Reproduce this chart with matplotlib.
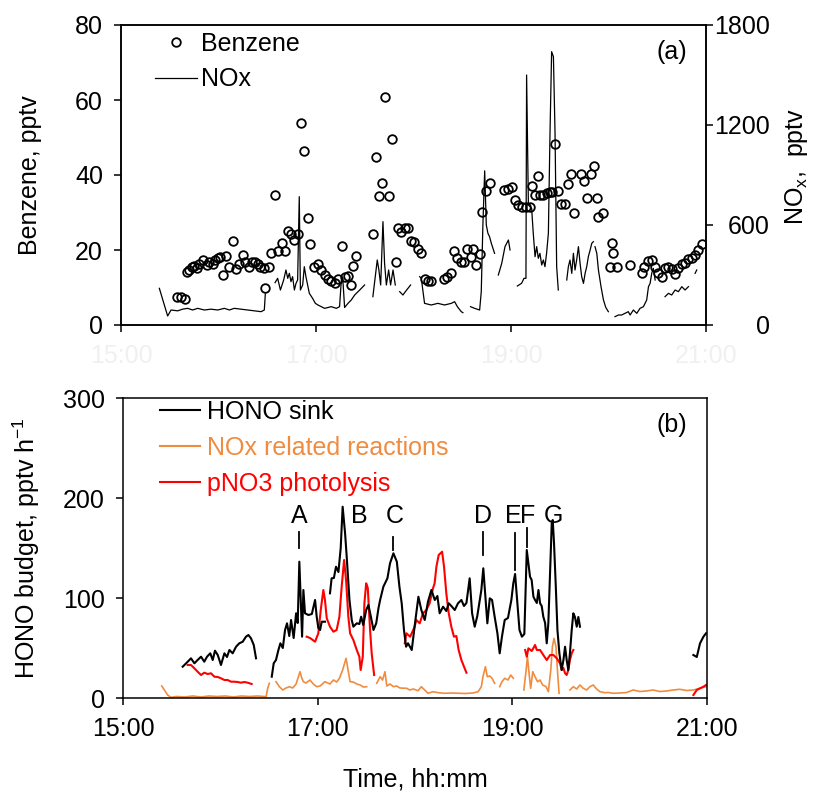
import numpy as np
import matplotlib
matplotlib.use("Agg")
import matplotlib.pyplot as plt
from matplotlib.lines import Line2D

plt.rcParams['font.family'] = ['Liberation Sans', 'DejaVu Sans']
nan = np.nan

# ---------------- data (time in minutes after 15:00) ----------------
benz_t = [34.5, 37.0, 39.4, 40.4, 42.1, 43.7, 45.1, 46.8, 48.2, 50.3, 52.9, 54.4, 56.4, 58.0,
          59.5, 61.1, 62.6, 64.6, 66.7, 68.7, 70.8, 72.8, 74.9, 76.3, 78.6, 80.6, 82.7, 84.1,
          85.7, 87.8, 88.6, 90.9, 92.3, 94.8, 96.4, 98.9, 100.9, 102.6, 104.6, 106.7, 108.7,
          111.0, 112.8, 114.9, 116.5, 118.6, 121.2, 123.3, 125.3, 127.4, 129.4, 131.5, 133.5,
          136.0, 137.6, 139.7, 141.3, 142.7, 144.8, 155.0, 156.7, 158.7, 160.8, 162.6, 164.7,
          166.9, 169.0, 170.4, 172.5, 174.5, 176.6, 178.2, 180.3, 182.7, 184.8, 186.8, 188.9,
          190.9, 198.7, 200.8, 202.8, 204.9, 206.9, 209.0, 211.0, 213.1, 215.1, 216.6, 218.6,
          220.7, 222.1, 224.8, 226.8, 235.7, 238.1, 240.8, 242.5, 244.6, 246.8, 249.2, 251.4,
          253.2, 254.8, 256.9, 257.9, 259.9, 262.0, 264.0, 265.5, 267.1, 269.2, 270.8, 273.3,
          274.9, 277.0, 279.0, 283.1, 285.2, 286.6, 289.3, 291.3, 292.8, 293.8, 296.9, 301.0,
          302.0, 303.0, 305.1, 313.3, 320.4, 322.1, 324.6, 327.0, 328.7, 330.7, 332.8, 334.8,
          336.9, 338.9, 341.0, 343.0, 345.1, 347.1, 349.2, 351.2, 353.3, 355.3, 357.4]
benz_v = [7.4, 7.4, 6.9, 14.2, 14.7, 15.4, 15.8, 15.1, 16.4, 17.3, 16.0, 16.9, 16.4, 17.3,
          17.8, 18.2, 13.3, 18.5, 15.4, 22.4, 14.9, 16.4, 18.8, 16.9, 15.4, 16.9, 16.9, 16.4,
          15.5, 15.1, 9.8, 15.4, 19.3, 34.7, 19.8, 21.8, 19.8, 25.1, 24.3, 22.7, 24.3,
          54.0, 46.5, 28.5, 21.5, 15.5, 16.4, 14.7, 13.3, 12.4, 11.8, 11.3, 12.4,
          21.2, 12.7, 13.0, 10.8, 15.8, 18.5, 24.2, 44.9, 34.4, 37.8, 60.7, 34.4,
          49.6, 16.9, 25.8, 24.9, 26.0, 26.0, 22.5, 22.2, 20.4, 19.3, 12.2, 11.8,
          11.8, 12.4, 12.9, 14.0, 19.8, 17.8, 16.7, 16.7, 20.2, 18.2, 20.2, 16.0,
          18.9, 30.2, 35.8, 37.8, 36.0, 36.2, 36.7, 33.3, 32.0, 31.6, 31.4, 31.4,
          37.1, 34.7, 39.7, 34.7, 34.7, 35.1, 35.6, 35.6, 48.3, 35.8, 32.4, 32.4,
          37.6, 40.3, 30.0, 40.4, 38.4, 33.8, 40.4, 42.5, 33.8, 28.7, 30.0, 15.6,
          21.9, 19.3, 15.6, 16.0, 13.8, 15.4, 17.1, 17.3, 15.4, 13.8, 12.9, 15.1,
          15.6, 14.9, 13.6, 15.1, 16.4, 16.6, 17.5, 18.0, 18.7, 20.0, 21.6]

nox_t = [23.6, 28.7, 30.8, 34.9, 37.9, 41.0, 44.1, 47.2, 51.3, 55.4, 59.5, 63.6, 66.7, 69.7,
         73.8, 77.9, 82.1, 86.2, 88.2, 88.8, nan,
         94.8, 96.4, 98.1, 100.1, 101.5, 102.6, 103.6, 104.6, 105.6, 106.7, 107.7, 108.7, 109.7,
         110.4, 111.8, 112.8, 113.8, 115.9, 117.9, 119.6, 121.2, 125.3, 129.4, 132.5, 134.5,
         135.6, 136.6, 137.6, 139.7, 141.7, 143.8, 146.9, 149.9, nan,
         155.0, 156.5, 157.7, 158.7, 159.8, 161.2, 162.2, 163.3, 164.7, 165.9, 167.4, 168.8, nan,
         171.5, 173.5, 175.0, 176.6, 178.2, nan,
         183.8, 184.8, 186.8, 190.9, 195.0, 199.1, 203.3, 205.3, 207.0, 209.4, 210.4, nan,
         215.1, 217.6, 220.7, 221.7, 222.7, 223.8, 224.8, 225.8, 226.8, 227.9, 228.9, 229.9, nan,
         232.2, 234.3, 236.3, 238.4, 239.4, nan,
         243.9, 246.5, 248.0, 249.2, 249.6, 250.7, 251.7, 252.7, 253.7, 254.8, 255.8, 256.8,
         257.8, 258.9, 259.9, 260.9, 261.9, 263.0, 264.0, 265.0, 266.1, 267.1, 268.1, 269.1, nan,
         274.3, 275.3, 276.3, 277.4, 278.4, 279.4, 280.4, 281.5, 282.5, 283.5, 284.6, 285.6,
         286.6, 287.6, 288.7, 289.7, 290.7, nan,
         291.7, 292.8, 293.8, 295.4, 296.9, 298.3, 299.9, nan,
         304.0, 306.1, 308.1, 310.2, 312.2, 313.3, 315.3, 317.4, 319.4, 321.5, 323.5, 324.6,
         325.6, 326.6, 327.6, 328.7, nan,
         334.8, 336.9, 338.9, 341.0, 343.0, 345.1, 347.1, 349.2, nan,
         353.3, 354.3]
nox_v = [220, 54, 90, 85, 95, 100, 90, 100, 90, 95, 90, 100, 90, 100,
         95, 90, 85, 80, 90, 186, nan,
         254, 280, 210, 270, 330, 280, 310, 260, 290, 210, 250, 270, 770,
         210, 240, 350, 290, 190, 160, 130, 120, 100, 110, 100, 110,
         270, 260, 105, 130, 150, 180, 210, 240, nan,
         170, 290, 390, 330, 240, 620, 370, 240, 330, 240, 330, 240, nan,
         200, 180, 200, 220, 240, nan,
         290, 280, 130, 120, 130, 120, 130, 140, 110, 80, 74, nan,
         110, 100, 90, 200, 600, 925, 600, 550, 530, 490, 460, 430, nan,
         300, 370, 470, 510, 450, nan,
         234, 250, 280, 280, 1500, 720, 710, 700, 550, 410, 470, 400,
         430, 360, 390, 350, 430, 550, 1150, 1640, 1610, 1150, 350, 210, nan,
         270, 350, 390, 310, 430, 330, 390, 470, 370, 290, 250, 310,
         350, 410, 450, 490, 500, nan,
         470, 430, 330, 230, 150, 106, 80, nan,
         50, 60, 60, 70, 80, 60, 90, 70, 100, 110, 150, 230,
         250, 310, 340, 270, nan,
         170, 190, 180, 210, 200, 230, 210, 230, nan,
         310, 330]

sink_t = [36.8, 39.9, 41.9, 44.0, 46.0, 48.1, 50.1, 51.8, 53.8, 55.3, 56.7, 58.4, 60.4, 62.5,
          64.1, 65.6, 67.6, 69.7, 71.7, 73.8, 75.8, 77.3, 78.9, 80.6, 82.0, nan,
          91.7, 92.9, 94.3, 95.8, 97.0, 98.5, 99.9, 101.1, 102.5, 103.6, 105.2, 106.7, 107.7,
          108.7, 109.7, 110.4, 111.2, 112.2, 114.3, 116.4, 118.4, 119.4, 120.4, 121.5, 122.5,
          124.5, nan,
          127.6, 128.6, 130.0, 131.3, 132.8, 134.2, 135.4, 136.9, 137.9, 139.6, 141.0, 142.0,
          144.1, 145.7, 146.8, 148.1, 149.9, 151.3, 152.8, 154.4, 156.1, 157.5, 158.5, 160.5,
          163.0, 164.6, 166.7, 168.8, 170.4, 171.8, 173.2, 174.5, 175.7, 178.0, 180.0, 182.1,
          183.9, 186.0, 188.0, 190.1, 192.2, 193.8, 195.2, 197.3, 199.3, 200.8, 202.4, 204.5,
          206.5, 208.6, 210.2, 211.7, 213.7, 215.2, 216.8, 218.4, 220.9, 222.1, 223.4, 224.6,
          226.1, 227.5, 229.1, 230.8, 232.2, 233.6, 235.3, 237.3, 239.4, 240.6, 241.7, 243.1,
          244.4, 245.9, 247.4, 248.9, 249.9, 250.9, 251.9, 253.0, 254.0, 255.1, 256.1, 257.1,
          258.1, 259.1, 260.2, 261.2, 262.2, 263.3, 264.3, 264.9, 265.7, 266.8, 267.8, 269.0,
          270.4, 271.5, 272.5, 273.5, 274.5, 275.5, 276.6, 277.6, 278.6, 279.7, 280.7, 281.7, nan,
          351.6, 353.7, 355.7, 357.8, 359.4]
sink_v = [31.3, 36.3, 39.7, 34.7, 38.0, 41.3, 36.3, 41.3, 44.7, 38.0, 47.3, 43.0, 33.0, 44.7,
          41.0, 48.0, 44.7, 51.3, 54.7, 56.3, 61.3, 63.0, 59.7, 53.0, 39.7, nan,
          21.3, 34.7, 38.0, 48.0, 54.7, 50.0, 68.0, 74.7, 62.0, 78.0, 60.0, 84.7, 75.0,
          136.3, 91.3, 61.3, 108.0, 84.7, 83.0, 84.0, 98.0, 81.3, 70.0, 68.0, 76.3,
          76.3, nan,
          104.7, 119.7, 120.0, 131.3, 126.0, 150.0, 191.3, 164.7, 141.3, 98.0, 78.0, 71.3,
          74.7, 74.0, 81.3, 73.0, 88.0, 93.0, 81.3, 68.0, 74.7, 90.0, 98.0, 111.3,
          119.7, 134.7, 144.7, 136.3, 111.3, 94.7, 68.0, 51.3, 54.7, 48.0, 74.7, 101.3,
          88.0, 78.0, 96.3, 108.0, 98.0, 102.0, 84.7, 91.3, 87.0, 94.7, 92.0, 88.0,
          94.7, 98.0, 92.0, 95.0, 119.7, 84.7, 71.3, 82.0, 108.0, 129.7, 101.3, 74.7,
          99.7, 98.0, 81.3, 64.7, 44.7, 61.3, 78.0, 80.0, 98.0, 114.7, 124.0, 94.7,
          68.0, 61.3, 64.0, 148.0, 134.7, 121.3, 118.0, 101.3, 98.0, 95.0, 108.0, 94.7,
          92.0, 81.3, 75.0, 54.7, 75.0, 128.0, 174.7, 178.0, 154.7, 111.3, 68.0, 44.7,
          28.0, 38.0, 51.3, 38.0, 28.0, 44.7, 68.0, 84.7, 81.0, 71.3, 81.0, 71.3, nan,
          43.0, 41.0, 54.7, 61.3, 64.7]

pno3_t = [39.9, 41.9, 44.0, 46.0, 48.1, 50.1, 52.2, 54.3, 56.3, 58.4, 60.4, 62.5, 64.5, 66.6,
          68.6, 70.7, 72.7, 74.8, 76.9, 79.3, nan,
          113.2, 115.3, 118.4, 120.4, 121.9, 123.5, 124.5, 125.6, 127.6, 129.7, 131.7, 133.4,
          134.8, 136.3, 137.5, 138.9, 140.0, 142.0, 144.1, 145.7, 146.5, 147.8, 148.8, 149.9,
          150.9, 152.3, 153.3, 154.8, nan,
          173.7, 174.7, 177.0, 179.8, 180.8, 182.9, 184.9, 187.0, 189.0, 191.1, 192.1, 193.2,
          194.6, 196.7, 197.9, 199.3, 200.8, 202.4, 204.0, 205.5, 206.9, 208.6, 210.6, 211.7, nan,
          247.9, 248.9, 249.9, 252.0, 254.0, 255.1, 257.1, 259.1, 261.2, 263.3, 265.3, 267.4,
          269.4, 270.4, 271.5, 272.5, 273.5, 274.5, 275.5, 276.6, 277.6, nan,
          351.6, 353.7, 355.7, 357.8, 359.4]
pno3_v = [33.0, 33.0, 29.7, 26.3, 23.0, 25.3, 24.0, 24.7, 21.3, 21.0, 19.7, 18.0, 18.0, 16.3,
          16.3, 16.0, 15.3, 16.0, 15.3, 14.0, nan,
          61.3, 60.0, 56.3, 64.7, 88.0, 108.0, 98.0, 79.7, 71.3, 66.3, 68.0, 81.3,
          111.3, 138.0, 118.0, 81.3, 64.7, 58.0, 48.0, 41.3, 28.0, 41.3, 94.7, 114.7,
          110.0, 68.0, 44.7, 23.0, nan,
          54.7, 64.7, 61.3, 71.3, 78.0, 74.7, 84.7, 88.0, 94.7, 109.7, 114.7, 131.3,
          143.0, 146.3, 131.3, 104.7, 84.7, 71.3, 61.3, 62.0, 48.0, 38.0, 29.7, 25.3, nan,
          48.0, 41.3, 49.7, 47.0, 53.0, 48.0, 48.0, 43.0, 38.0, 43.0, 43.0, 39.7,
          34.7, 28.0, 30.0, 24.7, 23.0, 28.0, 38.0, 44.7, 48.0, nan,
          3.0, 8.0, 9.7, 11.3, 13.0]

noxr_t = [23.9, 25.5, 27.5, 29.6, 33.0, 38.0, 43.0, 48.0, 53.0, 58.0, 63.0, 68.0, 73.0,
          78.0, 83.0, 88.2, 89.2, 90.2, nan,
          94.3, 96.4, 98.5, 100.5, 102.6, 104.6, 106.7, 109.1, 110.2, 111.2, 112.8, 115.3,
          117.3, 119.4, 121.5, 124.5, 127.6, 129.7, 131.7, 133.4, 135.4, 137.5, 138.9, 140.0,
          142.0, 144.1, 146.2, 148.1, 150.2, nan,
          156.4, 158.5, 160.0, 161.5, 162.6, 164.6, 166.7, 168.7, 170.7, 174.9, 176.7, 179.0,
          181.9, 183.9, 186.0, 188.0, 191.1, 194.2, 198.3, 202.4, 206.5, 210.6, 215.8, 218.9,
          220.9, 221.9, 223.4, 224.6, 226.1, 227.5, 229.1, nan,
          232.2, 233.6, 235.3, 237.3, 239.0, 240.6, nan,
          247.1, 248.5, 249.3, 250.1, 251.3, 252.6, 254.0, 255.5, 257.1, 258.7, 260.8, 262.2,
          263.7, 264.7, 265.7, 266.9, 267.8, 268.8, nan,
          275.5, 277.6, 279.7, 281.7, 283.7, 285.8, 287.8, 289.9, 291.9, 294.0, 297.0, 299.1,
          302.2, 306.3, 310.4, 314.5, 318.6, 322.7, 326.8, 330.9, 335.0, 339.1, 343.2, 347.4,
          351.5, 355.6, 359.4]
noxr_v = [12.0, 8.0, 3.0, 0.7, 1.5, 1.0, 2.0, 1.0, 2.0, 1.5, 2.0, 1.0, 2.0,
          1.5, 2.0, 1.3, 9.7, 14.7, nan,
          16.3, 11.3, 8.0, 10.0, 11.3, 10.0, 14.0, 26.3, 20.0, 16.3, 15.0, 18.0,
          14.0, 11.3, 12.0, 16.3, 14.0, 18.0, 16.0, 19.7, 28.0, 39.7, 26.3, 16.3,
          16.0, 14.0, 13.0, 11.0, 11.3, nan,
          14.7, 21.3, 18.0, 26.3, 12.0, 14.0, 11.3, 12.0, 10.0, 9.7, 8.0, 9.0,
          7.3, 11.3, 8.0, 4.7, 6.3, 5.3, 4.7, 5.0, 4.7, 4.5, 5.0, 6.3,
          11.3, 21.3, 31.3, 21.3, 22.0, 19.7, 14.7, nan,
          11.3, 16.3, 19.7, 18.0, 23.0, 19.7, nan,
          8.0, 28.0, 41.3, 28.0, 9.7, 26.3, 21.3, 16.3, 18.0, 13.0, 11.3, 6.3,
          28.0, 51.3, 59.7, 51.3, 28.0, 4.7, nan,
          8.0, 11.3, 9.0, 13.0, 9.7, 8.0, 11.3, 13.0, 9.0, 6.3, 5.3, 5.5,
          4.7, 5.0, 5.5, 8.0, 6.5, 7.0, 8.0, 6.5, 7.0, 8.0, 8.7, 7.5,
          8.0, 9.7, 11.3]

peak_labels = ['A', 'B', 'C', 'D', 'E', 'F', 'G']
peak_label_t = [108.5, 145.5, 167.7, 222.0, 240.4, 249.7, 265.1]
peak_tick_t = [108.5, None, 166.5, 222.0, 241.7, 249.1, None]
peak_tick_lo = [150, None, 148, 143, 128, 151, None]
peak_tick_hi = [166, None, 161, 166, 165, 170, None]

time_ticks = [0, 120, 240, 360]
time_labels = ['15:00', '17:00', '19:00', '21:00']

# ---------------- figure ----------------
W, H = 839, 795
fig = plt.figure(figsize=(W / 100, H / 100), dpi=100)

def frac(l, t, r, b):
    return [l / W, 1 - b / H, (r - l) / W, (b - t) / H]

FS = 18
ORANGE = '#F08C40'
RED = '#FF0000'

ax1 = fig.add_axes(frac(121, 25, 706, 325))
ax1b = ax1.twinx()
ax1.set_zorder(2)
ax1.patch.set_visible(False)

ax1b.plot(nox_t, nox_v, color='black', lw=0.9)
ax1.plot(benz_t, benz_v, ls='none', marker='o', ms=6.2, mfc='none', mec='black', mew=1.3)

ax1.set_xlim(0, 360)
ax1.set_ylim(0, 80)
ax1b.set_ylim(0, 1800)
ax1.set_yticks([0, 20, 40, 60, 80])
ax1b.set_yticks([0, 600, 1200, 1800])
ax1.set_xticks(time_ticks)
ax1.set_xticklabels(time_labels, color='#f0f0f0')

ax1.set_ylabel('Benzene, pptv', fontsize=FS)
ax1.yaxis.set_label_coords(-0.135, 0.5)
ax1b.set_ylabel('NO$_\\mathregular{x}$,  pptv', fontsize=FS, rotation=90)
ax1b.yaxis.set_label_coords(1.132, 0.53)

ax1.text(0.942, 0.91, '(a)', transform=ax1.transAxes, fontsize=FS, ha='center', va='center')

h1 = [Line2D([], [], ls='none', marker='o', ms=6.2, mfc='none', mec='black', mew=1.3),
      Line2D([], [], color='black', lw=0.9)]
ax1.legend(h1, ['Benzene', 'NOx'], loc='upper left', bbox_to_anchor=(0.058, 0.978),
           frameon=False, fontsize=FS, borderpad=0, borderaxespad=0, handlelength=1.7,
           handletextpad=0.15, labelspacing=0.47)

ax2 = fig.add_axes(frac(123, 398, 707, 698))
ax2.plot(noxr_t, noxr_v, color=ORANGE, lw=1.2)
ax2.plot(pno3_t, pno3_v, color=RED, lw=1.5)
ax2.plot(sink_t, sink_v, color='black', lw=1.5)
ax2.set_xlim(0, 360)
ax2.set_ylim(0, 300)
ax2.set_yticks([0, 100, 200, 300])
ax2.set_xticks(time_ticks)
ax2.set_xticklabels(time_labels)
ax2.set_xlabel('Time, hh:mm', fontsize=FS)
ax2.xaxis.set_label_coords(0.5, -0.233)
ax2.set_ylabel('HONO budget, pptv h$^{\\mathregular{-1}}$', fontsize=FS)
ax2.yaxis.set_label_coords(-0.139, 0.5)
ax2.text(0.94, 0.91, '(b)', transform=ax2.transAxes, fontsize=FS, ha='center', va='center')

h2 = [Line2D([], [], color='black', lw=1.5), Line2D([], [], color=ORANGE, lw=1.5),
      Line2D([], [], color=RED, lw=1.5)]
leg2 = ax2.legend(h2, ['HONO sink', 'NOx related reactions', 'pNO3 photolysis'],
                  loc='upper left', bbox_to_anchor=(0.063, 0.993), frameon=False, fontsize=FS,
                  borderpad=0, borderaxespad=0, handlelength=1.6, handletextpad=0.28,
                  labelspacing=0.47)
for txt, c in zip(leg2.get_texts(), ['black', ORANGE, RED]):
    txt.set_color(c)

for lab, lt, tt, lo, hi in zip(peak_labels, peak_label_t, peak_tick_t, peak_tick_lo, peak_tick_hi):
    ax2.text(lt, 182, lab, fontsize=FS, ha='center', va='center')
    if tt is not None:
        ax2.plot([tt, tt], [lo, hi], color='black', lw=1.3)

for ax in (ax1, ax1b, ax2):
    ax.tick_params(direction='out', length=5, width=1.1, labelsize=FS)
    for s in ax.spines.values():
        s.set_linewidth(1.1)
ax1.tick_params(axis='y', pad=8)
ax2.tick_params(axis='y', right=False, pad=8)
ax1.tick_params(axis='x', pad=9)
ax2.tick_params(axis='x', pad=9)
ax1b.tick_params(axis='y', pad=41)
for lbl in ax1b.get_yticklabels():
    lbl.set_horizontalalignment('right')

fig.savefig('out.png', dpi=100)
